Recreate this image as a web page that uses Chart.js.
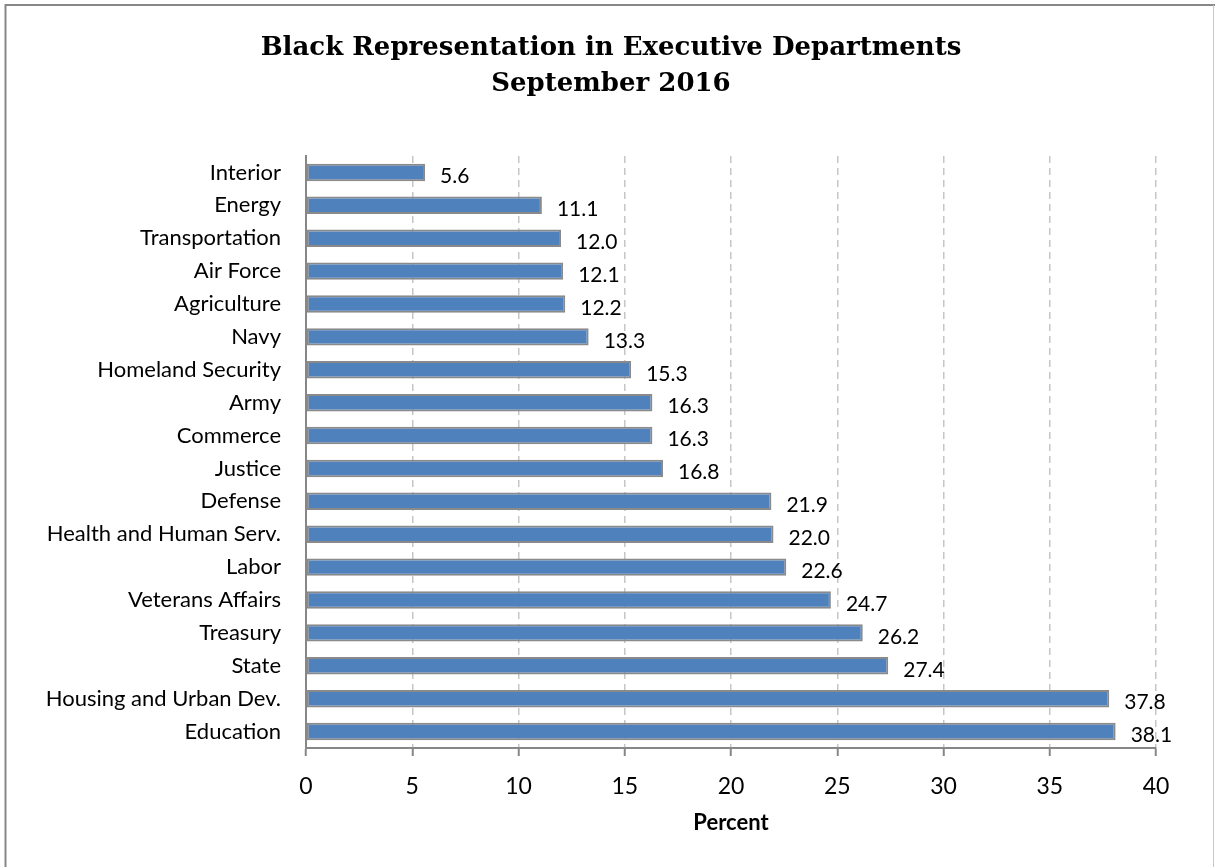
<!DOCTYPE html>
<html>
<head>
<meta charset="utf-8">
<script src="https://cdn.jsdelivr.net/npm/chart.js@4"></script>
<style>
  html, body { margin: 0; padding: 0; background: #fff; }
  #wrap { width: 1215px; height: 867px; position: relative; }
</style>
</head>
<body>
<div id="wrap"><canvas id="deptChart" width="1215" height="867"></canvas></div>
<script>
const departments = [
  'Interior', 'Energy', 'Transportation', 'Air Force', 'Agriculture', 'Navy',
  'Homeland Security', 'Army', 'Commerce', 'Justice', 'Defense',
  'Health and Human Serv.', 'Labor', 'Veterans Affairs', 'Treasury', 'State',
  'Housing and Urban Dev.', 'Education'
];
const percentBlack = [
  5.6, 11.1, 12.0, 12.1, 12.2, 13.3, 15.3, 16.3, 16.3, 16.8,
  21.9, 22.0, 22.6, 24.7, 26.2, 27.4, 37.8, 38.1
];
const titleLines = ['Black Representation in Executive Departments', 'September 2016'];
const axisTitle = 'Percent';

const labelFont = 'Lato, "Open Sans", sans-serif';

// grey frame (top, left, right edges) and the two-line title
const framePlugin = {
  id: 'frame',
  beforeDraw(chart) {
    const ctx = chart.ctx;
    ctx.save();
    ctx.fillStyle = '#fff';
    ctx.fillRect(0, 0, chart.width, chart.height);
    ctx.strokeStyle = '#878787';
    ctx.lineWidth = 2;
    ctx.beginPath();
    ctx.moveTo(5.5, chart.height);
    ctx.lineTo(5.5, 5);
    ctx.lineTo(chart.width, 5);
    ctx.stroke();
    ctx.strokeStyle = '#c8c8c8';
    ctx.lineWidth = 1;
    ctx.beginPath();
    ctx.moveTo(chart.width - 1.5, 5);
    ctx.lineTo(chart.width - 1.5, chart.height);
    ctx.stroke();

    ctx.fillStyle = '#000';
    ctx.font = 'bold 26px "DejaVu Serif", serif';
    ctx.textAlign = 'center';
    ctx.textBaseline = 'alphabetic';
    ctx.fillText(titleLines[0], 611, 55);
    ctx.fillText(titleLines[1], 611, 91);
    ctx.restore();
  }
};

// value labels right of each bar
const valueLabels = {
  id: 'valueLabels',
  afterDatasetsDraw(chart) {
    const ctx = chart.ctx;
    const meta = chart.getDatasetMeta(0);
    ctx.save();
    ctx.fillStyle = '#000';
    ctx.font = '21px ' + labelFont;
    ctx.textAlign = 'left';
    ctx.textBaseline = 'middle';
    meta.data.forEach((bar, i) => {
      ctx.fillText(percentBlack[i].toFixed(1), bar.x + 15, bar.y + 4);
    });
    ctx.restore();
  }
};

const ctx = document.getElementById('deptChart').getContext('2d');
new Chart(ctx, {
  type: 'bar',
  data: {
    labels: departments,
    datasets: [{
      data: percentBlack,
      backgroundColor: '#4f81bd',
      borderColor: '#8a8a8a',
      borderWidth: 2,
      borderSkipped: false,
      barPercentage: 0.53,
      categoryPercentage: 1.0
    }]
  },
  options: {
    indexAxis: 'y',
    responsive: false,
    animation: false,
    layout: { padding: { left: 0, right: 59, top: 156, bottom: 0 } },
    plugins: {
      legend: { display: false },
      tooltip: { enabled: false },
      title: { display: false }
    },
    scales: {
      x: {
        min: 0,
        max: 40,
        ticks: {
          stepSize: 5,
          color: '#000',
          padding: 17,
          font: { family: labelFont, size: 23 }
        },
        grid: {
          color: '#c6c6c6',
          lineWidth: 1.5,
          tickColor: '#878787',
          tickLength: 8,
          tickWidth: 2
        },
        border: { display: true, color: '#878787', width: 2, dash: [7, 5] },
        title: {
          display: true,
          text: axisTitle,
          color: '#000',
          font: { family: labelFont, size: 22, weight: 'bold' },
          padding: { top: 10, bottom: 31 }
        },
        afterFit(scale) { scale.height = 119; }
      },
      y: {
        ticks: {
          color: '#000',
          padding: 25,
          font: { family: labelFont, size: 22 }
        },
        grid: { display: false, drawTicks: false },
        border: { display: true, color: '#878787', width: 2 },
        afterFit(scale) { scale.width = 306; }
      }
    }
  },
  plugins: [framePlugin, valueLabels]
});
</script>
</body>
</html>
